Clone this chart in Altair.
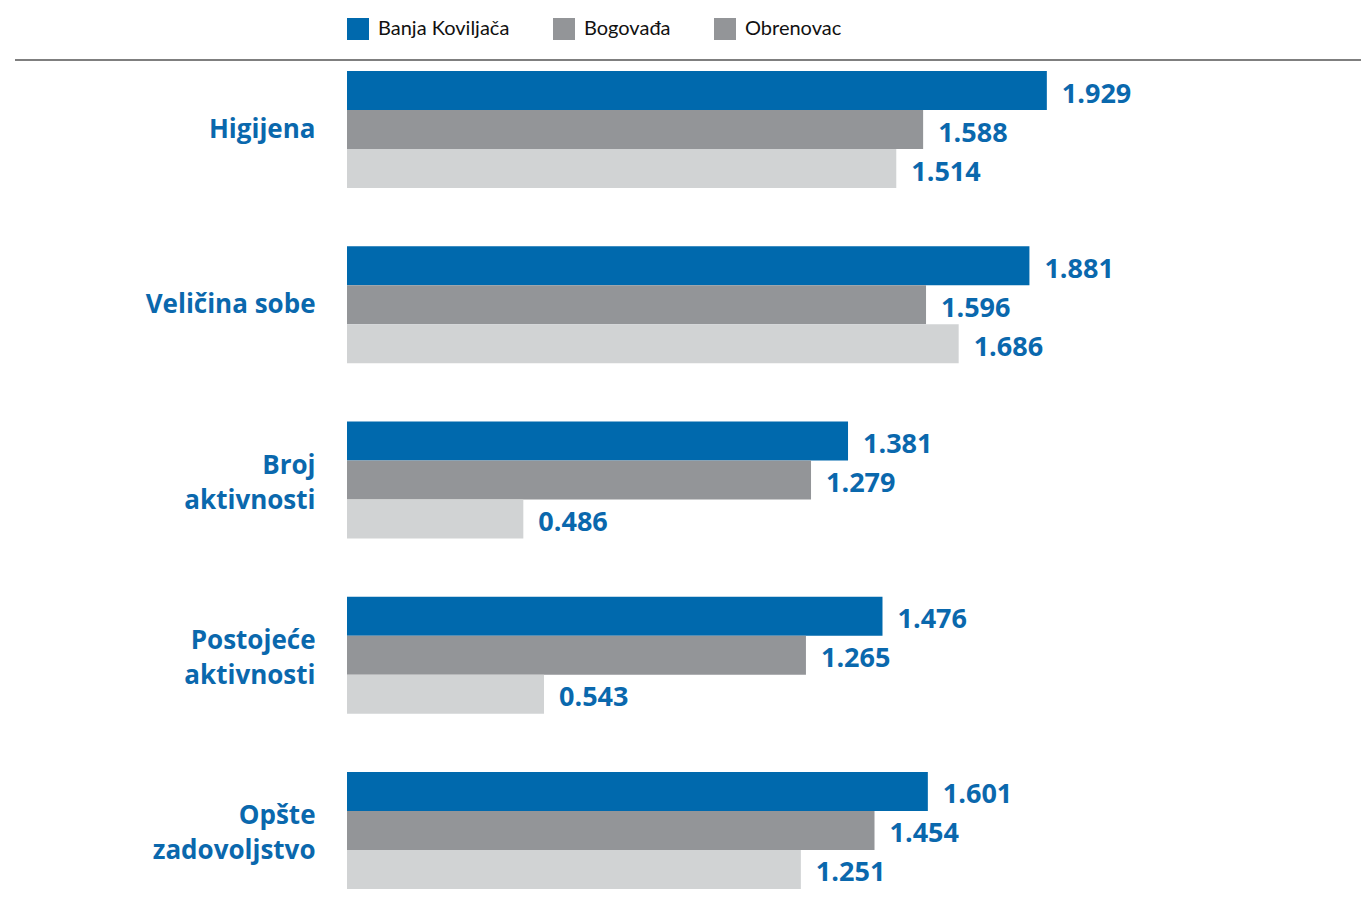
import altair as alt
import pandas as pd

categories = ["Higijena", "Veličina sobe", "Broj aktivnosti", "Postojeće aktivnosti", "Opšte zadovoljstvo"]
series = ["Banja Koviljača", "Bogovađa", "Obrenovac"]
banja = [1.929, 1.881, 1.381, 1.476, 1.601]
bogovadja = [1.588, 1.596, 1.279, 1.265, 1.454]
obrenovac = [1.514, 1.686, 0.486, 0.543, 1.251]
bar_colors = ["#0069ad", "#939598", "#d1d3d4"]
legend_colors = ["#0069ad", "#939598", "#939598"]

rows = []
for s, vals in zip(series, [banja, bogovadja, obrenovac]):
    for c, v in zip(categories, vals):
        rows.append({"category": c, "series": s, "value": v})
df = pd.DataFrame(rows)

BLUE = "#0a68ad"
LABEL_FONT = "Open Sans"

multi = "indexof(datum.value, ' ') >= 0 && datum.value != 'Veličina sobe'"
label_expr = (
    "datum.label == 'Veličina sobe' || indexof(datum.label, ' ') < 0 "
    "? datum.label : split(datum.label, ' ')"
)

y = alt.Y(
    "category:N",
    sort=categories,
    scale=alt.Scale(paddingInner=0.332, paddingOuter=0.063),
    axis=alt.Axis(
        title=None, ticks=False, domain=False, grid=False,
        labelFont=LABEL_FONT, labelFontWeight="bold", labelFontSize=26,
        labelColor=BLUE, labelPadding=32, labelLimit=0, labelLineHeight=35,
        labelExpr=label_expr,
        labelOffset={"condition": {"test": multi, "value": -14}, "value": 0},
    ),
)
yoff = alt.YOffset("series:N", sort=series, scale=alt.Scale(paddingInner=0, paddingOuter=0))
x = alt.X("value:Q", scale=alt.Scale(domain=[0, 2.5], nice=False, zero=True), axis=None)

legend = alt.Legend(
    title=None, orient="none", legendX=0, legendY=-42, direction="horizontal",
    symbolType="square", symbolSize=484, symbolStrokeWidth=0, symbolOpacity=1,
    labelFont="Lato", labelFontSize=20, labelColor="#111111", labelOffset=9,
    columnPadding=43, padding=0,
)

bars = alt.Chart(df).mark_bar(opacity=1).encode(
    x=x, y=y, yOffset=yoff,
    color=alt.Color("series:N", sort=series,
                    scale=alt.Scale(domain=series, range=bar_colors), legend=None),
)

legend_layer = alt.Chart(df).mark_square(opacity=0, filled=True).encode(
    x=x, y=y, yOffset=yoff,
    color=alt.Color("series:N", sort=series,
                    scale=alt.Scale(domain=series, range=legend_colors), legend=legend),
)

labels = alt.Chart(df).mark_text(
    align="left", baseline="middle", dx=15, dy=4,
    font=LABEL_FONT, fontWeight="bold", fontSize=27, color=BLUE,
).encode(x=x, y=y, yOffset=yoff, text=alt.Text("value:Q", format=".3f"))

rule = alt.Chart(pd.DataFrame({"a": [0]})).mark_rule(color="#555555", strokeWidth=1.5).encode(
    x=alt.value(-332), x2=alt.value(1014), y=alt.value(0)
)

chart = alt.layer(rule, bars, legend_layer, labels).resolve_scale(color="independent").properties(
    width=907, height=840,
    padding={"left": 339, "top": 52, "right": 107, "bottom": 0},
    autosize=alt.AutoSizeParams(type="none"),
).configure_view(stroke=None)

chart.save("out.html", embed_options={"renderer": "svg", "actions": False})
